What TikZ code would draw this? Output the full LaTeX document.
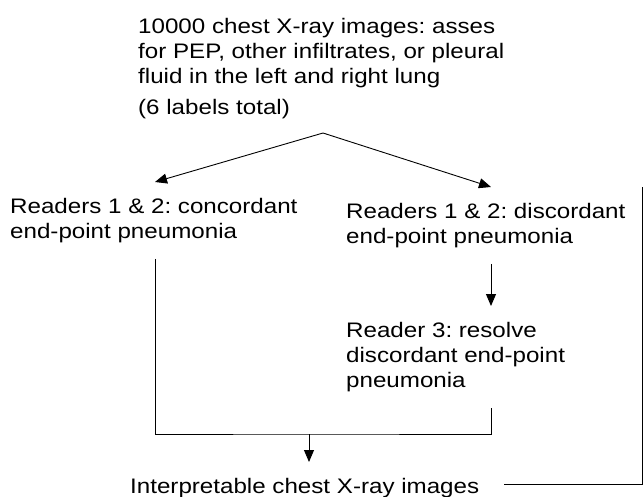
\documentclass[tikz,border=0pt]{standalone}
\usepackage{fontspec}
\setmainfont{Liberation Sans}[FakeStretch=1.15]
\usetikzlibrary{positioning,arrows.meta,calc}
\frenchspacing

\begin{document}
\begin{tikzpicture}[
    x=1pt, y=-1pt,
    box/.style={anchor=north west, align=left, inner xsep=0pt, inner ysep=16pt,
        font=\fontsize{21}{25}\selectfont},
    line/.style={line width=0.9pt, black},
    arr/.style={line, -{Triangle[length=12pt, width=10pt]}},
]
\useasboundingbox (0,0) rectangle (644,497);

\node[box] (scan) at (138,2) {10000 chest X-ray images: asses\\
    for PEP, other infiltrates, or pleural\\
    fluid in the left and right lung\\[6pt]
    (6 labels total)};
\node[box] (concord) at (10,182) {Readers 1 \& 2: concordant\\end-point pneumonia};
\node[box] (discord) at (346,187) {Readers 1 \& 2: discordant\\end-point pneumonia};
\node[box] (reader3) at (346,306) {Reader 3: resolve\\discordant end-point\\pneumonia};
\node[box] (images) at (130,462) {Interpretable chest X-ray images};

\coordinate (fork) at (323,133);
\coordinate (lcol) at (155,0);
\coordinate (rcol) at (491,0);
\coordinate (merge) at (309,434);
\coordinate (rtop) at (642,187);

\draw[arr] (fork) -- (lcol |- concord.north);
\draw[arr] (fork) -- (rcol |- discord.north);
\draw[arr] (rcol |- discord.south) -- (rcol |- reader3.north);
\draw[line] (lcol |- concord.south) |- (merge) -| (rcol |- reader3.south);
\draw[arr] (merge) -- (merge |- images.north);
\draw[line] ([shift={(25pt,9pt)}]images.base east) -| (rtop);
\end{tikzpicture}
\end{document}
